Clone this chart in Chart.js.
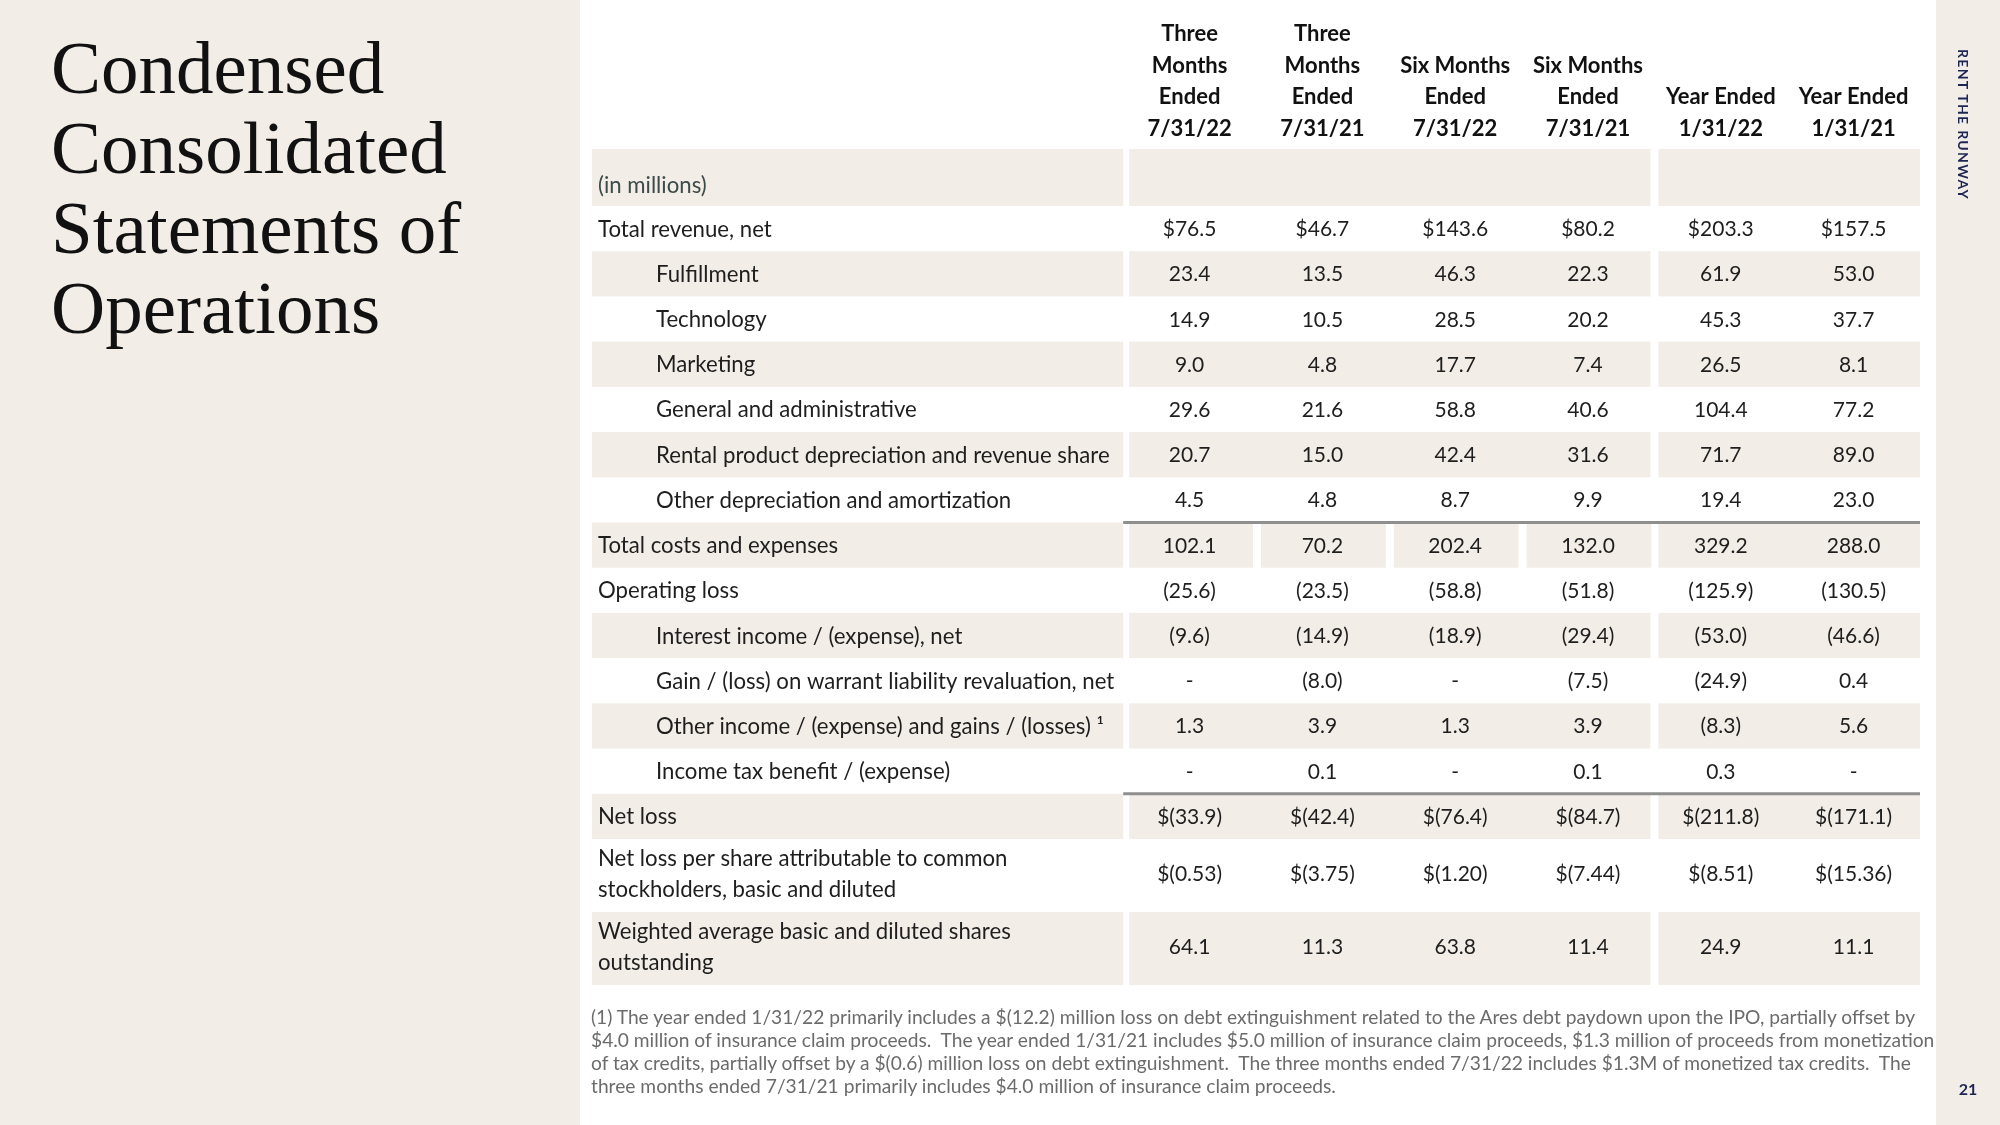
<!DOCTYPE html>
<html>
<head>
<meta charset="utf-8">
<title>Condensed Consolidated Statements of Operations</title>
<script src="https://cdn.jsdelivr.net/npm/chart.js@4.4.1/dist/chart.umd.min.js"></script>
<style>
  html, body { margin: 0; padding: 0; background: #ffffff; }
  #page { position: relative; width: 2000px; height: 1125px; overflow: hidden; background: #ffffff; }
  .panel { position: absolute; top: 0; height: 1125px; background: #f3ede7; }
  #leftPanel { left: 0; width: 580px; }
  #rightPanel { left: 1936px; width: 64px; }
  #c { position: absolute; left: 0; top: 0; }
  #title { position: absolute; left: 51px; top: 28px; margin: 0; font-family: "Liberation Serif", serif; font-weight: 400; font-size: 75px; line-height: 80px; color: #111111; }
  #brand { position: absolute; left: 1953px; top: 49px; writing-mode: vertical-rl; font-family: Lato, sans-serif; font-weight: 700; font-size: 14px; letter-spacing: 1.3px; line-height: 20px; color: #1d2553; }
  #pageNum { position: absolute; left: 1956px; top: 1079px; width: 24px; text-align: center; font-family: Lato, sans-serif; font-weight: 700; font-size: 16px; line-height: 20px; color: #1d2553; }
  #footnote { position: absolute; left: 591px; top: 1005px; margin: 0; font-family: Lato, sans-serif; font-size: 19.2px; line-height: 23px; color: #6b6b6b; white-space: pre; }
</style>
</head>
<body>
<div id="page">
  <div class="panel" id="leftPanel"></div>
  <div class="panel" id="rightPanel"></div>
  <canvas id="c" width="2000" height="1125"></canvas>
  <h1 id="title">Condensed<br>Consolidated<br>Statements of<br>Operations</h1>
  <div id="brand">RENT THE RUNWAY</div>
  <div id="pageNum">21</div>
  <p id="footnote">(1) The year ended 1/31/22 primarily includes a $(12.2) million loss on debt extinguishment related to the Ares debt paydown upon the IPO, partially offset by
$4.0 million of insurance claim proceeds.  The year ended 1/31/21 includes $5.0 million of insurance claim proceeds, $1.3 million of proceeds from monetization
of tax credits, partially offset by a $(0.6) million loss on debt extinguishment.  The three months ended 7/31/22 includes $1.3M of monetized tax credits.  The
three months ended 7/31/21 primarily includes $4.0 million of insurance claim proceeds.</p>
</div>
<script>
// ---------------- DATA ----------------
const unitsLabel = "(in millions)";

const columnHeaders = [
  ["Three", "Months", "Ended", "7/31/22"],
  ["Three", "Months", "Ended", "7/31/21"],
  ["Six Months", "Ended", "7/31/22"],
  ["Six Months", "Ended", "7/31/21"],
  ["Year Ended", "1/31/22"],
  ["Year Ended", "1/31/21"]
];

const rowLabels = [
  "Total revenue, net",
  "Fulfillment",
  "Technology",
  "Marketing",
  "General and administrative",
  "Rental product depreciation and revenue share",
  "Other depreciation and amortization",
  "Total costs and expenses",
  "Operating loss",
  "Interest income / (expense), net",
  "Gain / (loss) on warrant liability revaluation, net",
  "Other income / (expense) and gains / (losses) \u00B9",
  "Income tax benefit / (expense)",
  "Net loss",
  "Net loss per share attributable to common\nstockholders, basic and diluted",
  "Weighted average basic and diluted shares\noutstanding"
];

// hierarchy level of each row (0 = total line, 1 = component line)
const rowLevels = [0, 1, 1, 1, 1, 1, 1, 0, 0, 1, 1, 1, 1, 0, 0, 0];
// rows shown with a dollar sign
const rowDollar = [true, false, false, false, false, false, false, false, false, false, false, false, false, true, true, false];
// decimals shown per row
const rowDecimals = [1, 1, 1, 1, 1, 1, 1, 1, 1, 1, 1, 1, 1, 1, 2, 1];

// values in millions (per-share row in dollars, shares row in millions); 0 is shown as "-"
const threeMonths2022 = [76.5, 23.4, 14.9, 9.0, 29.6, 20.7, 4.5, 102.1, -25.6, -9.6, 0, 1.3, 0, -33.9, -0.53, 64.1];
const threeMonths2021 = [46.7, 13.5, 10.5, 4.8, 21.6, 15.0, 4.8, 70.2, -23.5, -14.9, -8.0, 3.9, 0.1, -42.4, -3.75, 11.3];
const sixMonths2022   = [143.6, 46.3, 28.5, 17.7, 58.8, 42.4, 8.7, 202.4, -58.8, -18.9, 0, 1.3, 0, -76.4, -1.20, 63.8];
const sixMonths2021   = [80.2, 22.3, 20.2, 7.4, 40.6, 31.6, 9.9, 132.0, -51.8, -29.4, -7.5, 3.9, 0.1, -84.7, -7.44, 11.4];
const yearEnded2022   = [203.3, 61.9, 45.3, 26.5, 104.4, 71.7, 19.4, 329.2, -125.9, -53.0, -24.9, -8.3, 0.3, -211.8, -8.51, 24.9];
const yearEnded2021   = [157.5, 53.0, 37.7, 8.1, 77.2, 89.0, 23.0, 288.0, -130.5, -46.6, 0.4, 5.6, 0, -171.1, -15.36, 11.1];

const columnSeries = [threeMonths2022, threeMonths2021, sixMonths2022, sixMonths2021, yearEnded2022, yearEnded2021];

// ---------------- LAYOUT / STYLE ----------------
const SHADE = "#f3ede7";
const TEXT = "#1e1e1e";
const UNITS_COLOR = "#3c4a4a";
const RULE = "#8f8f8f";
const LABEL_FONT = "22.2px Lato, sans-serif";
const VALUE_FONT = "21px Lato, sans-serif";
const HEAD_FONT = "700 22px Lato, sans-serif";
const LABEL_UNITS = 4;          // width of label column in x-units
const TOTAL_X = LABEL_UNITS + columnSeries.length;

function fmt(v, r) {
  if (v === 0) return "-";
  let s = Math.abs(v).toFixed(rowDecimals[r]);
  if (v < 0) s = "(" + s + ")";
  if (rowDollar[r]) s = "$" + s;
  return s;
}

// row geometry in y-units (one unit = one single-line row)
const rows = [{ label: unitsLabel, units: true, weight: 57 / 45.2 }].concat(
  rowLabels.map((l, i) => ({ label: l, level: rowLevels[i], idx: i, weight: l.includes("\n") ? 73 / 45.2 : 1 }))
);
let acc = 0;
rows.forEach(r => { r.top = acc; acc += r.weight; r.bottom = acc; r.center = (r.top + r.bottom) / 2; });
const totalY = acc;

const colCenter = d => LABEL_UNITS + 0.5 + d;

const tablePlugin = {
  id: "statementTable",
  beforeDatasetsDraw(chart) {
    const ctx = chart.ctx, xs = chart.scales.x, ys = chart.scales.y;
    const X = v => xs.getPixelForValue(v), Y = v => ys.getPixelForValue(v);
    ctx.save();
    ctx.fillStyle = SHADE;
    rows.forEach((r, i) => {
      if (i % 2 !== 0) return;
      const t = Y(r.top), b = Y(r.bottom);
      ctx.fillRect(X(0), t, X(LABEL_UNITS) - X(0), b - t);
      const isTotalCosts = r.idx === 7;
      if (isTotalCosts) {
        for (let k = 0; k < 4; k++) {
          const x0 = X(LABEL_UNITS + k) + (k === 0 ? 6 : 5), x1 = X(LABEL_UNITS + k + 1) - 3;
          ctx.fillRect(x0, t, x1 - x0, b - t);
        }
      } else {
        const x0 = X(LABEL_UNITS) + 6, x1 = X(LABEL_UNITS + 4) - 4;
        ctx.fillRect(x0, t, x1 - x0, b - t);
      }
      const g0 = X(LABEL_UNITS + 4) + 4, g1 = X(TOTAL_X);
      ctx.fillRect(g0, t, g1 - g0, b - t);
    });
    ctx.fillStyle = RULE;
    rows.forEach(r => {
      if (r.idx === 7 || r.idx === 13) {
        const y = Y(r.top);
        ctx.fillRect(X(LABEL_UNITS), y - 1.5, X(TOTAL_X) - X(LABEL_UNITS), 3);
      }
    });
    ctx.restore();
  },
  afterDatasetsDraw(chart) {
    const ctx = chart.ctx, xs = chart.scales.x, ys = chart.scales.y;
    const X = v => xs.getPixelForValue(v), Y = v => ys.getPixelForValue(v);
    ctx.save();
    ctx.textBaseline = "alphabetic";
    ctx.font = HEAD_FONT;
    ctx.fillStyle = "#111111";
    ctx.textAlign = "center";
    const headBottom = Y(0) - 21;
    columnHeaders.forEach((lines, d) => {
      const n = lines.length;
      lines.forEach((ln, k) => {
        const cy = headBottom - (n - 1 - k) * 31.6;
        ctx.fillText(ln, X(colCenter(d)), cy + 8);
      });
    });
    ctx.textAlign = "left";
    ctx.font = LABEL_FONT;
    rows.forEach(r => {
      if (r.units) {
        ctx.fillStyle = UNITS_COLOR;
        ctx.fillText(r.label, X(0) + 6, Y(r.bottom) - 21 + 8);
        return;
      }
      ctx.fillStyle = TEXT;
      const x = X(0) + (r.level ? 64 : 6);
      const lines = r.label.split("\n");
      const cy = Y(r.center) - (lines.length > 1 ? 2 : 0);
      lines.forEach((ln, k) => {
        const y = cy + (k - (lines.length - 1) / 2) * 31;
        ctx.fillText(ln, x, y + 8);
      });
    });
    ctx.textAlign = "center";
    ctx.font = VALUE_FONT;
    ctx.fillStyle = TEXT;
    chart.data.datasets.forEach((ds, d) => {
      const meta = chart.getDatasetMeta(d);
      meta.data.forEach((el, j) => {
        const r = rows[j + 1];
        const off = r.label.includes("\n") ? -2 : 0;
        ctx.fillText(fmt(ds.data[j].v, j), el.x, el.y + off + 7.5);
      });
    });
    ctx.restore();
  }
};

function build() {
  new Chart(document.getElementById("c"), {
    type: "scatter",
    data: {
      datasets: columnSeries.map((vals, d) => ({
        label: columnHeaders[d].join(" "),
        data: vals.map((v, j) => ({ x: colCenter(d), y: rows[j + 1].center, v: v })),
        pointRadius: 0,
        pointHoverRadius: 0,
        showLine: false
      }))
    },
    options: {
      responsive: false,
      animation: false,
      devicePixelRatio: 1,
      events: [],
      layout: { autoPadding: false, padding: { left: 592, right: 80, top: 149, bottom: 140 } },
      plugins: { legend: { display: false }, tooltip: { enabled: false } },
      scales: {
        x: { type: "linear", min: 0, max: TOTAL_X, display: false },
        y: { type: "linear", min: 0, max: totalY, reverse: true, display: false }
      }
    },
    plugins: [tablePlugin]
  });
}
if (document.fonts && document.fonts.load) {
  Promise.all([document.fonts.load(LABEL_FONT), document.fonts.load(VALUE_FONT), document.fonts.load(HEAD_FONT)]).then(build, build);
} else { build(); }
</script>
</body>
</html>
